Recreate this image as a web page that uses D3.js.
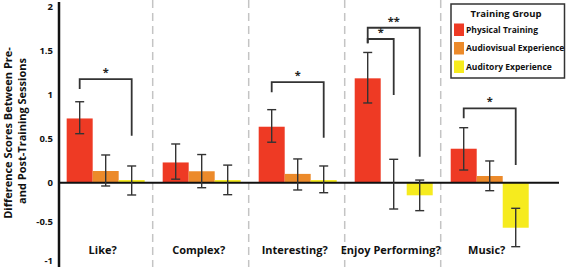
<!DOCTYPE html>
<html><head><meta charset="utf-8">
<script src="https://cdn.jsdelivr.net/npm/d3@7"></script>
<style>body{margin:0;background:#fff}svg{display:block}text{font-family:"Open Sans",sans-serif;font-weight:700}</style>
</head><body><svg id="c" width="567" height="267"></svg>
<script>
const categories = ["Like?", "Complex?", "Interesting?", "Enjoy Performing?", "Music?"];
const groups = ["Physical Training", "Audiovisual Experience", "Auditory Experience"];
const colors = ["#EE3A24", "#EC8A2A", "#F6EB1E"];
const physical = [0.73, 0.23, 0.636, 1.186, 0.386];
const physicalLo = [0.557, 0.04, 0.46, 0.906, 0.144];
const physicalHi = [0.92, 0.44, 0.83, 1.48, 0.625];
const audiovisual = [0.133, 0.13, 0.1, 0.0, 0.076];
const audiovisualLo = [-0.042, -0.064, -0.093, -0.336, -0.102];
const audiovisualHi = [0.315, 0.32, 0.27, 0.266, 0.247];
const auditory = [0.03, 0.03, 0.03, -0.161, -0.575];
const auditoryLo = [-0.157, -0.153, -0.128, -0.357, -0.817];
const auditoryHi = [0.19, 0.2, 0.19, 0.03, -0.327];
const yTicks = [2, 1.5, 1, 0.5, 0, -0.5, -1];
// significance brackets: category, from group, to group, top value, left end, right end, label
const brackets = [
  {cat: 0, from: 0, to: 2, top: 1.178, left: 1.065, right: 0.534, label: "*"},
  {cat: 2, from: 0, to: 2, top: 1.144, left: 1.027, right: 0.511, label: "*"},
  {cat: 3, from: 0, to: 1, top: 1.633, left: 1.584, right: 0.997, label: "*"},
  {cat: 3, from: 0, to: 2, top: 1.761, left: 1.584, right: 0.295, label: "**"},
  {cat: 4, from: 0, to: 2, top: 0.845, left: 0.732, right: 0.2, label: "*"}
];

const series = [
  {v: physical, lo: physicalLo, hi: physicalHi},
  {v: audiovisual, lo: audiovisualLo, hi: audiovisualHi},
  {v: auditory, lo: auditoryLo, hi: auditoryHi}
];

const svg = d3.select("#c");
const axisX = 59;
const x = d3.scaleBand().domain(d3.range(categories.length)).range([axisX, 536.4]).paddingInner(0.1875).paddingOuter(0.08);
const xs = d3.scaleBand().domain(d3.range(groups.length)).range([0, x.bandwidth()]);
const y = d3.scaleLinear().domain([-1, 0, 2]).range([261, 182.7, 6.7]);

// separators
const step = x.step();
svg.append("g").selectAll("line").data(d3.range(1, categories.length)).join("line")
  .attr("x1", i => x(i) - (step - x.bandwidth()) / 2 - 1)
  .attr("x2", i => x(i) - (step - x.bandwidth()) / 2 - 1)
  .attr("y1", 0).attr("y2", 267)
  .attr("stroke", "#c4c4c4").attr("stroke-width", 1.5).attr("stroke-dasharray", "8,5");

// bars
const cell = [];
series.forEach((s, g) => s.v.forEach((v, c) => cell.push({c, g, v, lo: s.lo[c], hi: s.hi[c]})));
svg.append("g").selectAll("rect").data(cell).join("rect")
  .attr("x", d => x(d.c) + xs(d.g))
  .attr("width", xs.bandwidth())
  .attr("y", d => y(Math.max(0, d.v)))
  .attr("height", d => Math.abs(y(d.v) - y(0)))
  .attr("fill", d => colors[d.g]);

// zero line
svg.append("line").attr("x1", axisX).attr("x2", 559).attr("y1", y(0)).attr("y2", y(0))
  .attr("stroke", "#111").attr("stroke-width", 2);

// error bars
const eb = svg.append("g").attr("stroke", "#333").attr("stroke-width", 1.4).attr("fill", "none");
cell.forEach(d => {
  const cx = x(d.c) + xs(d.g) + xs.bandwidth() / 2;
  eb.append("line").attr("x1", cx).attr("x2", cx).attr("y1", y(d.hi)).attr("y2", y(d.lo));
  eb.append("line").attr("x1", cx - 4.5).attr("x2", cx + 4.5).attr("y1", y(d.hi)).attr("y2", y(d.hi));
  eb.append("line").attr("x1", cx - 4.5).attr("x2", cx + 4.5).attr("y1", y(d.lo)).attr("y2", y(d.lo));
});

// brackets
const br = svg.append("g");
brackets.forEach(b => {
  const x1 = x(b.cat) + xs(b.from) + xs.bandwidth() / 2;
  const x2 = x(b.cat) + xs(b.to) + xs.bandwidth() / 2;
  br.append("path").attr("d", `M${x1},${y(b.left)}V${y(b.top)}H${x2}V${y(b.right)}`)
    .attr("fill", "none").attr("stroke", "#333").attr("stroke-width", 1.8);
  br.append("text").attr("x", (x1 + x2) / 2).attr("y", y(b.top) - 3).attr("text-anchor", "middle")
    .attr("font-size", 11).attr("fill", "#222").text(b.label);
});

// y axis
svg.append("line").attr("x1", axisX).attr("x2", axisX).attr("y1", 2).attr("y2", 267)
  .attr("stroke", "#111").attr("stroke-width", 2.5);
svg.append("g").selectAll("text").data(yTicks).join("text")
  .attr("x", 53).attr("y", d => y(d)).attr("dy", "0.35em").attr("text-anchor", "end")
  .attr("font-size", 9.5).attr("fill", "#111").text(d => d);

// y title
svg.append("text").attr("transform", "translate(12,133) rotate(-90)").attr("text-anchor", "middle")
  .attr("font-size", 11).attr("fill", "#111").text("Difference Scores Between Pre-");
svg.append("text").attr("transform", "translate(25.5,131) rotate(-90)").attr("text-anchor", "middle")
  .attr("font-size", 11).attr("fill", "#111").text("and Post-Training Sessions");

// category labels
svg.append("g").selectAll("text").data(categories).join("text")
  .attr("x", (d, i) => x(i) + x.bandwidth() / 2 - 3).attr("y", 250).attr("dy", "0.35em")
  .attr("text-anchor", "middle").attr("font-size", 11).attr("fill", "#111").text(d => d);

// legend
const lg = svg.append("g");
lg.append("rect").attr("x", 451).attr("y", 4).attr("width", 113.5).attr("height", 74)
  .attr("fill", "#fff").attr("stroke", "#333").attr("stroke-width", 1.5);
lg.append("text").attr("x", 506).attr("y", 13.5).attr("dy", "0.35em").attr("text-anchor", "middle")
  .attr("font-size", 9.5).attr("fill", "#111").text("Training Group");
groups.forEach((g, i) => {
  lg.append("rect").attr("x", 454).attr("y", 23.5 + i * 18.5).attr("width", 10).attr("height", 12.5).attr("fill", colors[i]);
  lg.append("text").attr("x", 466).attr("y", 30 + i * 18.5).attr("dy", "0.35em")
    .attr("font-size", 8.5).attr("fill", "#111").text(g);
});
</script></body></html>
